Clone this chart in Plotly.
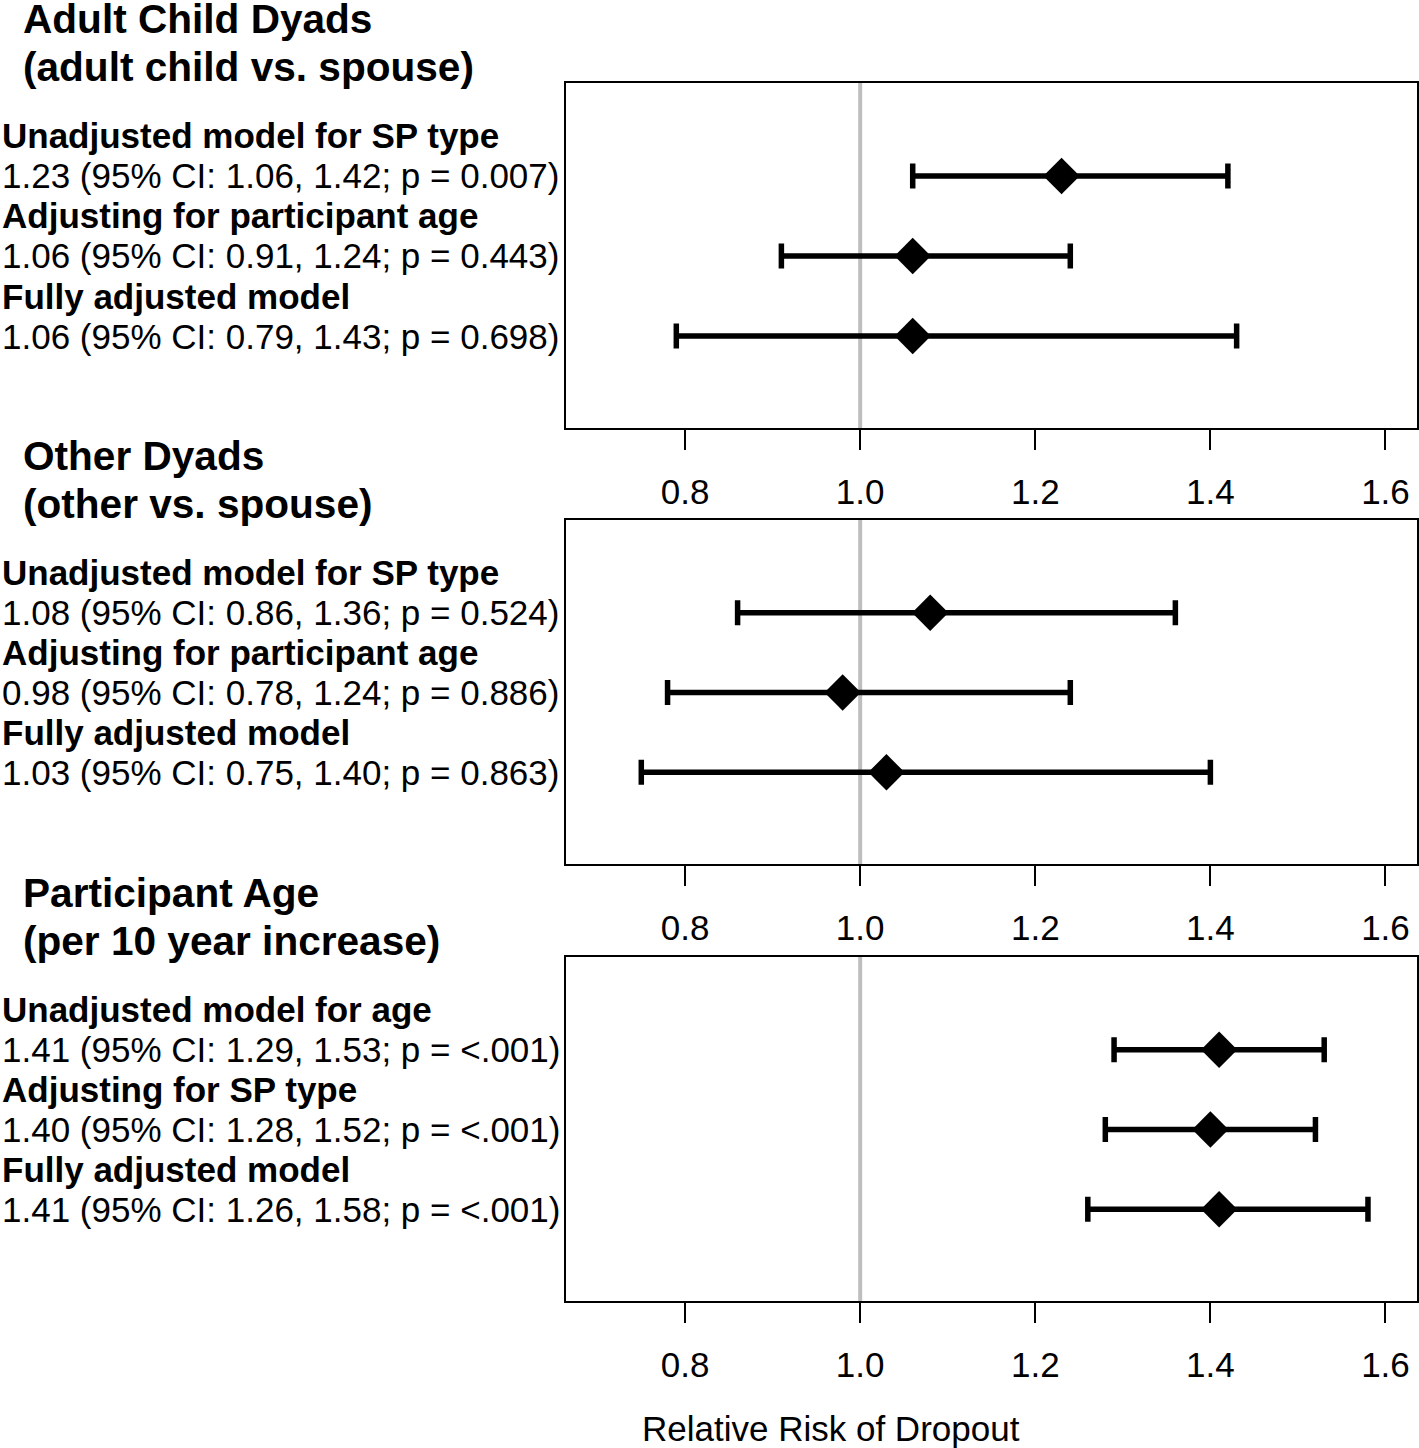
import plotly.graph_objects as go

# ---------------- data ----------------
panel_titles = ["Adult Child Dyads", "Other Dyads", "Participant Age"]
panel_subtitles = ["(adult child vs. spouse)", "(other vs. spouse)", "(per 10 year increase)"]

labels_child = ["Unadjusted model for SP type", "Adjusting for participant age", "Fully adjusted model"]
est_child = [1.23, 1.06, 1.06]
lo_child = [1.06, 0.91, 0.79]
hi_child = [1.42, 1.24, 1.43]
p_child = ["0.007", "0.443", "0.698"]

labels_other = ["Unadjusted model for SP type", "Adjusting for participant age", "Fully adjusted model"]
est_other = [1.08, 0.98, 1.03]
lo_other = [0.86, 0.78, 0.75]
hi_other = [1.36, 1.24, 1.40]
p_other = ["0.524", "0.886", "0.863"]

labels_age = ["Unadjusted model for age", "Adjusting for SP type", "Fully adjusted model"]
est_age = [1.41, 1.40, 1.41]
lo_age = [1.29, 1.28, 1.26]
hi_age = [1.53, 1.52, 1.58]
p_age = ["<.001", "<.001", "<.001"]

tick_vals = [0.8, 1.0, 1.2, 1.4, 1.6]
tick_text = ["0.8", "1.0", "1.2", "1.4", "1.6"]
ref_value = 1.0
x_title = "Relative Risk of Dropout"

panels = [
    (labels_child, est_child, lo_child, hi_child, p_child),
    (labels_other, est_other, lo_other, hi_other, p_other),
    (labels_age, est_age, lo_age, hi_age, p_age),
]

# ---------------- layout geometry ----------------
W, H = 1419, 1448
FONT = "Liberation Sans, Arial, Helvetica, sans-serif"
BASE = 35
HEAD = 40.6

x_left_px, x_right_px = 566, 1417
panel_px = [(83, 428), (520, 864), (957, 1301)]


def fx(px):
    return px / W


def fy(px):
    return 1 - px / H


fig = go.Figure()
annotations = []
shapes = []
layout = dict(
    width=W, height=H,
    margin=dict(l=0, r=0, t=0, b=0),
    paper_bgcolor="white", plot_bgcolor="white",
    showlegend=False,
    font=dict(family=FONT, size=BASE, color="black"),
)

for i, (labs, est, lo, hi, pv) in enumerate(panels):
    n = i + 1
    xa = "x" if n == 1 else f"x{n}"
    ya = "y" if n == 1 else f"y{n}"
    rows = list(range(1, len(est) + 1))
    fig.add_trace(go.Scatter(
        x=est, y=rows, xaxis=xa, yaxis=ya, mode="markers",
        marker=dict(symbol="diamond", size=28, color="black"),
        error_x=dict(type="data", symmetric=False,
                     array=[h - e for h, e in zip(hi, est)],
                     arrayminus=[e - l for e, l in zip(est, lo)],
                     thickness=5.5, width=12.5, color="black"),
        cliponaxis=False,
    ))
    top, bot = panel_px[i]
    layout["xaxis" if n == 1 else f"xaxis{n}"] = dict(
        domain=[fx(x_left_px), fx(x_right_px)], anchor=ya,
        range=[0.664, 1.636], tickvals=tick_vals, ticktext=tick_text,
        ticks="outside", ticklen=20, tickwidth=2, tickcolor="black",
        ticklabelstandoff=12,
        tickfont=dict(family=FONT, size=BASE, color="black"),
        showline=True, mirror=True, linecolor="black", linewidth=2,
        showgrid=False, zeroline=False, fixedrange=True,
    )
    layout["yaxis" if n == 1 else f"yaxis{n}"] = dict(
        domain=[fy(bot), fy(top)], anchor=xa,
        range=[4.15, -0.1625], showticklabels=False, ticks="",
        showline=True, mirror=True, linecolor="black", linewidth=2,
        showgrid=False, zeroline=False, fixedrange=True,
    )
    shapes.append(dict(type="line", xref=xa, yref=f"{ya} domain",
                       x0=ref_value, x1=ref_value, y0=0, y1=1,
                       line=dict(color="#BEBEBE", width=4), layer="below"))
    # headers
    annotations.append(dict(text=f"<b>{panel_titles[i]}</b>", xref="paper", yref="paper",
                            x=fx(22), y=fy(top - 64), xanchor="left", yanchor="middle",
                            showarrow=False, borderpad=0, font=dict(size=HEAD)))
    annotations.append(dict(text=f"<b>{panel_subtitles[i]}</b>", xref="paper", yref="paper",
                            x=fx(22), y=fy(top - 16), xanchor="left", yanchor="middle",
                            showarrow=False, borderpad=0, font=dict(size=HEAD)))
    for r, lab, e, l, h, p in zip(rows, labs, est, lo, hi, pv):
        annotations.append(dict(text=f"<b>{lab}</b>", xref="paper", yref=ya,
                                x=0, y=r, yshift=40, xanchor="left", yanchor="middle",
                                showarrow=False, font=dict(size=BASE)))
        annotations.append(dict(text=f"{e:.2f} (95% CI: {l:.2f}, {h:.2f}; p = {p})",
                                xref="paper", yref=ya, x=0, y=r,
                                xanchor="left", yanchor="middle",
                                showarrow=False, font=dict(size=BASE)))

annotations.append(dict(text=x_title, xref="paper", yref="paper",
                        x=fx(830.5), y=fy(1428), xanchor="center", yanchor="middle",
                        showarrow=False, font=dict(size=BASE)))

layout["annotations"] = annotations
layout["shapes"] = shapes
fig.update_layout(**layout)
fig.write_html("out.html",
               config={"displayModeBar": False},
               post_script="document.body.style.margin='0';document.body.style.overflow='hidden';")
